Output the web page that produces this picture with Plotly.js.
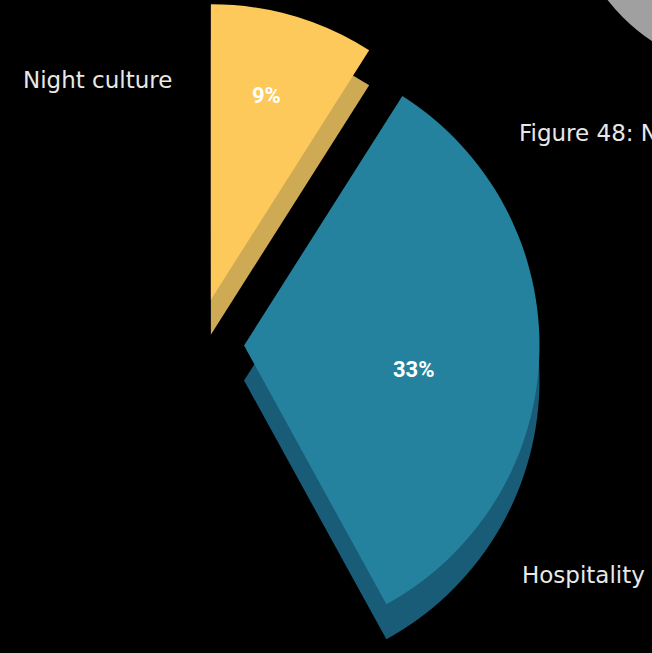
<!DOCTYPE html>
<html>
<head>
<meta charset="utf-8">
<script src="https://cdn.plot.ly/plotly-3.0.1.min.js"></script>
<style>
  html, body { margin: 0; padding: 0; background: #000; overflow: hidden; width: 652px; height: 653px; }
  #chart { position: absolute; left: -200px; top: -100px; width: 1000px; height: 1000px; }
</style>
</head>
<body>
<div id="chart"></div>
<script>
// Data
const categories = ["Night culture", "Hospitality", "Other"];
const values = [9, 33, 58];
const faceColors = ["#FCC95A", "#24829E", "rgba(0,0,0,0)"];
const sideColors = ["#CFAA55", "#195C78", "rgba(0,0,0,0)"];
const pulls = [0.156, 0.156, 0];
const chartTitle = "Figure 48: N";

const total = values.reduce((a, b) => a + b, 0);
const pctText = values.map(v => Math.round(v / total * 100) + "%");

const common = {
  type: "pie",
  labels: categories,
  values: values,
  sort: false,
  direction: "clockwise",
  rotation: 0,
  pull: pulls,
  showlegend: false,
  hoverinfo: "skip",
  textinfo: "none"
};

const side = Object.assign({}, common, {
  domain: { x: [0.0565, 0.7395], y: [0.1795, 0.8625] },
  marker: { colors: sideColors, line: { width: 0 } }
});

const face = Object.assign({}, common, {
  domain: { x: [0.0565, 0.7395], y: [0.2145, 0.8975] },
  marker: { colors: faceColors, line: { width: 0 } }
});

const labelFont = { family: "'DejaVu Sans', sans-serif", size: 23, color: "#E8E8E8" };
const pctFont = { family: "Roboto, sans-serif", size: 22, color: "#FFFFFF", weight: "bold" };

const layout = {
  width: 1000,
  height: 1000,
  margin: { l: 0, r: 0, t: 0, b: 0 },
  paper_bgcolor: "#000000",
  plot_bgcolor: "#000000",
  shapes: [
    { type: "circle", xref: "paper", yref: "paper", x0: 0.766, x1: 1.154, y0: 0.826, y1: 1.214,
      fillcolor: "#A0A0A0", line: { width: 0 }, layer: "below" }
  ],
  annotations: [
    { text: categories[0], xref: "paper", yref: "paper", x: 0.2975, y: 0.82, xanchor: "center", yanchor: "middle", showarrow: false, font: labelFont },
    { text: categories[1], xref: "paper", yref: "paper", x: 0.783, y: 0.325, xanchor: "center", yanchor: "middle", showarrow: false, font: labelFont },
    { text: chartTitle, xref: "paper", yref: "paper", x: 0.717, y: 0.767, xanchor: "left", yanchor: "middle", showarrow: false, font: labelFont },
    { text: pctText[0], xref: "paper", yref: "paper", x: 0.466, y: 0.8045, xanchor: "center", yanchor: "middle", showarrow: false, font: pctFont },
    { text: pctText[1], xref: "paper", yref: "paper", x: 0.6135, y: 0.5305, xanchor: "center", yanchor: "middle", showarrow: false, font: pctFont }
  ]
};

Plotly.newPlot("chart", [side, face], layout, { displayModeBar: false, staticPlot: true });
</script>
</body>
</html>
